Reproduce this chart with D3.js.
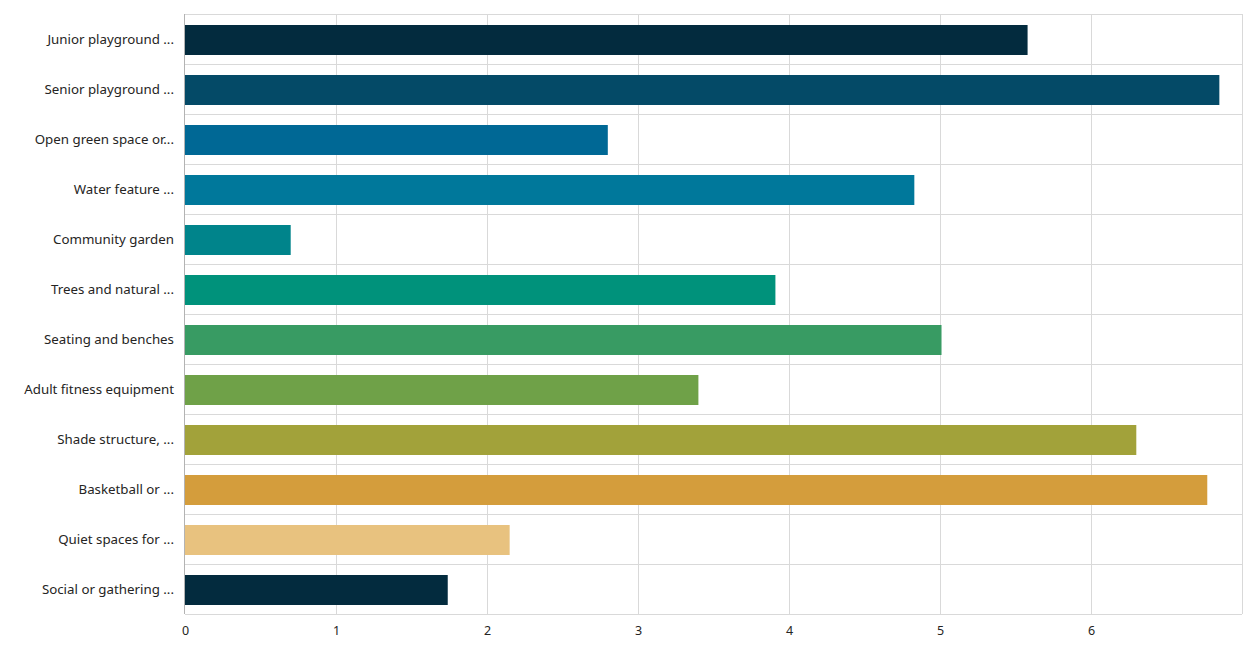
<!DOCTYPE html>
<html>
<head>
<meta charset="utf-8">
<script src="https://cdn.jsdelivr.net/npm/d3@7"></script>
<style>
  body { margin: 0; background: #fff; }
  svg { font-family: "Segoe UI", "Noto Sans", sans-serif; }
</style>
</head>
<body>
<svg id="chart" width="1258" height="668"></svg>
<script>
// categories (truncated labels as shown) and values
const categories = [
    "Junior playground ...", "Senior playground ...", "Open green space or...",
    "Water feature ...", "Community garden", "Trees and natural ...",
    "Seating and benches", "Adult fitness equipment", "Shade structure, ...",
    "Basketball or ...", "Quiet spaces for ...", "Social or gathering ..."
];
const values = [5.58, 6.85, 2.80, 4.83, 0.70, 3.91, 5.01, 3.40, 6.30, 6.77, 2.15, 1.74];
const barColors = ["#032b3e", "#044a67", "#006895", "#00789b", "#00848b", "#00927b",
    "#389b63", "#6fa148", "#a2a23a", "#d49d3c", "#e8c27f", "#032b3e"];
const xTicks = [0, 1, 2, 3, 4, 5, 6];

const margin = { top: 14, right: 16, bottom: 54, left: 185 };
const width = 1258, height = 668;

const svg = d3.select("#chart");

const x = d3.scaleLinear()
    .domain([0, 7])
    .range([margin.left, width - margin.right]);

const y = d3.scaleBand()
    .domain(categories)
    .range([margin.top, height - margin.bottom])
    .paddingInner(0.4)
    .paddingOuter(0.2);

// row separators
const rowLines = d3.range(categories.length + 1).map(i => margin.top + i * y.step());
svg.append("g")
    .selectAll("line")
    .data(rowLines)
    .join("line")
    .attr("x1", margin.left).attr("x2", width - margin.right)
    .attr("y1", d => d + 0.5).attr("y2", d => d + 0.5)
    .attr("stroke", "#d9d9d9");

// vertical grid
svg.append("g")
    .selectAll("line")
    .data(xTicks.slice(1).concat([7]))
    .join("line")
    .attr("x1", d => Math.round(x(d)) + 0.5).attr("x2", d => Math.round(x(d)) + 0.5)
    .attr("y1", margin.top).attr("y2", height - margin.bottom)
    .attr("stroke", "#d9d9d9");

// bars
svg.append("g")
    .selectAll("rect")
    .data(values)
    .join("rect")
    .attr("x", x(0))
    .attr("y", (d, i) => y(categories[i]) + 1)
    .attr("width", d => x(d) - x(0))
    .attr("height", y.bandwidth())
    .attr("fill", (d, i) => barColors[i]);

// y axis line
svg.append("line")
    .attr("x1", x(0) - 0.5).attr("x2", x(0) - 0.5)
    .attr("y1", margin.top).attr("y2", height - margin.bottom)
    .attr("stroke", "#b3b3b3");

// y axis labels
const yAxis = svg.append("g")
    .attr("transform", `translate(${margin.left - 11},0)`)
    .call(d3.axisLeft(y).tickSize(0).tickPadding(0));
yAxis.select(".domain").remove();
yAxis.selectAll("text")
    .attr("font-size", 13.3)
    .attr("font-family", "\"Segoe UI\", \"Noto Sans\", sans-serif")
    .attr("fill", "#252423")
    .attr("dy", "0.4em");

// x axis labels
const xAxis = svg.append("g")
    .attr("transform", `translate(0,${height - margin.bottom})`)
    .call(d3.axisBottom(x).tickValues(xTicks).tickSize(0).tickPadding(12).tickFormat(d3.format("d")));
xAxis.select(".domain").remove();
xAxis.selectAll("text")
    .attr("font-size", 12.5)
    .attr("font-family", "\"Segoe UI\", \"Noto Sans\", sans-serif")
    .attr("fill", "#252423");
</script>
</body>
</html>
